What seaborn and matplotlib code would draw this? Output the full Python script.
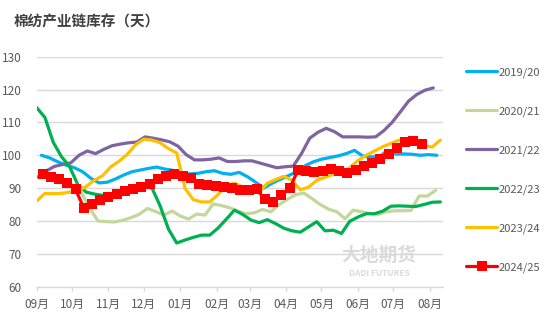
import numpy as np
import pandas as pd
import matplotlib
matplotlib.use("Agg")
import matplotlib.pyplot as plt
import seaborn as sns

# ---------------- data (weekly readings, days) ----------------
seasons = ["2019/20", "2020/21", "2021/22", "2022/23", "2023/24", "2024/25"]
colors = ["#00B0F0", "#C4D79B", "#8064A2", "#00B050", "#FFC000", "#FF0000"]
start_dates = ["2024-09-05", "2024-09-04", "2024-09-02", "2024-09-01", "2024-09-01", "2024-09-06"]

v2019 = [100.0, 99.2, 98.0, 97.0, 96.2, 95.0, 93.0, 91.6, 91.8, 92.8, 94.0, 95.0, 95.5,
         96.0, 96.4, 95.8, 95.4, 94.8, 94.3, 94.5, 95.0, 95.3, 94.5, 94.2, 94.8, 93.5,
         91.8, 90.0, 91.5, 92.7, 93.8, 95.0, 96.8, 98.0, 98.8, 99.3, 99.8, 100.5, 101.5,
         99.8, 99.5, 99.5, 101.5, 100.4, 100.4, 100.3, 100.0, 100.2, 100.0]
v2020 = [94.0, 93.0, 92.0, 91.5, 90.8, 88.6, 84.0, 80.0, 79.8, 79.7, 80.2, 81.0, 82.0,
         83.8, 82.9, 81.8, 83.0, 81.5, 80.6, 82.1, 81.8, 85.2, 84.7, 84.0, 83.0, 82.2,
         82.5, 83.5, 82.8, 85.0, 86.6, 88.0, 88.5, 86.8, 85.0, 83.6, 82.8, 80.7, 83.3,
         82.8, 82.3, 82.0, 82.8, 83.1, 83.1, 83.2, 87.6, 87.6, 89.3]
v2021 = [93.4, 95.2, 96.6, 97.2, 97.7, 100.0, 101.3, 100.5, 101.8, 102.9, 103.4, 103.8,
         104.0, 105.6, 105.2, 104.7, 104.1, 102.8, 100.2, 98.6, 98.6, 98.8, 99.2, 98.1,
         98.1, 98.3, 98.3, 97.6, 96.9, 96.2, 96.5, 96.7, 100.5, 105.2, 107.0, 108.2,
         107.2, 105.6, 105.6, 105.6, 105.5, 105.6, 107.5, 110.0, 113.2, 116.5, 118.5,
         119.8, 120.5]
v2022 = [114.5, 111.5, 104.0, 99.6, 96.5, 91.0, 88.8, 88.2, 87.8, 87.5, 88.3, 89.2, 90.2,
         90.8, 90.0, 84.5, 77.5, 73.3, 74.2, 75.0, 75.7, 75.7, 77.8, 80.5, 83.3, 82.0,
         80.3, 79.5, 80.4, 79.2, 77.8, 77.0, 76.6, 78.2, 79.8, 77.0, 77.2, 76.2, 79.9,
         81.2, 82.2, 82.2, 83.0, 84.5, 84.6, 84.5, 84.4, 85.0, 85.7, 85.8]
v2023 = [86.1, 88.4, 88.3, 88.4, 88.8, 89.1, 90.5, 92.4, 93.8, 96.5, 98.2, 100.3, 103.2,
         104.9, 104.6, 103.8, 102.0, 100.7, 90.0, 86.5, 85.8, 85.8, 88.0, 90.8, 91.5,
         90.4, 89.6, 88.8, 91.5, 92.6, 93.6, 92.4, 89.5, 90.3, 92.4, 93.3, 94.2, 94.8,
         96.2, 98.4, 100.0, 101.3, 102.6, 103.6, 104.6, 104.2, 103.6, 103.0, 102.5, 104.6]
v2024 = [94.2, 93.4, 92.9, 91.5, 89.6, 84.0, 85.1, 86.4, 87.2, 88.1, 89.0, 89.6, 90.2,
         91.3, 92.7, 93.7, 94.3, 93.7, 93.0, 91.3, 91.0, 90.6, 90.2, 89.9, 89.4, 89.4,
         89.6, 86.6, 85.9, 87.9, 89.9, 95.5, 95.3, 95.0, 95.3, 95.7, 95.3, 94.6, 95.5,
         96.8, 97.8, 98.9, 100.5, 102.1, 103.9, 104.3, 103.5]
values = [v2019, v2020, v2021, v2022, v2023, v2024]

month_labels = ["09月", "10月", "11月", "12月", "01月", "02月",
                "03月", "04月", "05月", "06月", "07月", "08月"]
yticks = [60, 70, 80, 90, 100, 110, 120, 130]
title = "棉纺产业链库存（天）"

frames = []
for s, d0, vals in zip(seasons, start_dates, values):
    frames.append(pd.DataFrame({
        "date": pd.date_range(d0, periods=len(vals), freq="7D"),
        "value": vals,
        "season": s,
    }))
df = pd.concat(frames, ignore_index=True)

# ---------------- plot ----------------
sns.set_theme(style="white")
plt.rcParams["font.family"] = ["Noto Sans CJK SC", "DejaVu Sans"]

fig = plt.figure(figsize=(5.5, 3.27), dpi=100)
ax = fig.add_axes([36.7 / 550, 1 - 286.7 / 327, (442.7 - 36.7) / 550, (286.7 - 56.7) / 327])

for s, c in zip(seasons, colors):
    sub = df[df["season"] == s]
    if s == "2024/25":
        sns.lineplot(data=sub, x="date", y="value", ax=ax, color=c, lw=2.3,
                     marker="s", markersize=7, markeredgewidth=0, label=s, zorder=3)
    else:
        sns.lineplot(data=sub, x="date", y="value", ax=ax, color=c, lw=2.3,
                     label=s, zorder=2)

ax.set_ylim(60, 130)
ax.set_yticks(yticks)
ax.set_xlim(pd.Timestamp("2024-09-01"), pd.Timestamp("2025-08-12"))
month_ticks = pd.date_range("2024-09-01", periods=len(month_labels), freq="MS")
ax.set_xticks(month_ticks)
ax.set_xticklabels(month_labels)
ax.set_xlabel("")
ax.set_ylabel("")

ax.yaxis.grid(True, color="#D9D9D9", lw=1)
ax.set_axisbelow(True)
for sp in ["left", "right", "top"]:
    ax.spines[sp].set_visible(False)
ax.spines["bottom"].set_color("#D9D9D9")
ax.spines["bottom"].set_linewidth(1)
ax.tick_params(axis="x", direction="out", length=3, width=1, color="#D9D9D9",
               pad=5, labelsize=8.5, labelcolor="#595959", bottom=True)
ax.tick_params(axis="y", length=0, pad=11, labelsize=8.5, labelcolor="#595959")

fig.text(14 / 550, 1 - 21 / 327, title, fontsize=10.5, fontweight="bold",
         color="#404040", ha="left", va="center")

# watermark
fig.text(379 / 550, 1 - 255 / 327, "大地期货", fontsize=13.5, fontweight="bold",
         color="#DADADA", ha="center", va="center", zorder=0)
fig.text(379 / 550, 1 - 274 / 327, "DADI FUTURES", fontsize=6, fontweight="bold",
         color="#DADADA", ha="center", va="center", zorder=0)

handles, labels = ax.get_legend_handles_labels()
ax.legend(handles, labels, loc="upper left", bbox_to_anchor=(466 / 550, 1 - 67 / 327),
          bbox_transform=fig.transFigure, frameon=False, handlelength=2.8,
          handletextpad=0.15, labelspacing=2.57, fontsize=8, borderaxespad=0,
          borderpad=0, labelcolor="#595959")

fig.savefig("out.png", dpi=100)
